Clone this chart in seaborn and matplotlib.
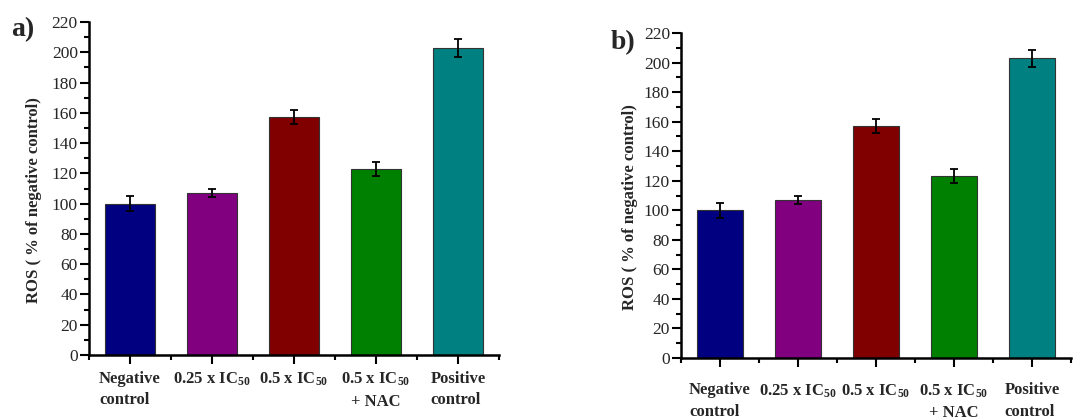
import numpy as np
import pandas as pd
import matplotlib
matplotlib.use("Agg")
import matplotlib.pyplot as plt
import matplotlib.transforms as mtransforms
from matplotlib.ticker import MultipleLocator
import seaborn as sns

categories = ["Negative\ncontrol", "0.25 x IC$_{\\mathbf{50}}$", "0.5 x IC$_{\\mathbf{50}}$",
              "0.5 x IC$_{\\mathbf{50}}$\n+ NAC", "Positive\ncontrol"]
ros_values = [100.0, 107.0, 157.0, 123.0, 203.0]
ros_errors = [5.0, 2.5, 4.6, 4.7, 5.8]
bar_colors = ["#000080", "#800080", "#800000", "#008000", "#008080"]
panel_labels = ["a)", "b)"]
y_label = "ROS ( % of negative control)"

sns.set_style("ticks")
plt.rcParams["font.family"] = ["Liberation Serif", "DejaVu Serif"]
plt.rcParams["mathtext.fontset"] = "custom"
plt.rcParams["mathtext.rm"] = "Liberation Serif:bold"
plt.rcParams["mathtext.bf"] = "Liberation Serif:bold"
plt.rcParams["mathtext.it"] = "Liberation Serif:bold"

df = pd.DataFrame({"cat": categories, "val": ros_values})

fig = plt.figure(figsize=(10.77, 4.19), dpi=100)
positions = [
    [0.0826, 0.1527, 0.4633 - 0.0826, 0.9475 - 0.1527],
    [0.6323, 0.1456, 0.9944 - 0.6323, 0.9212 - 0.1456],
]
label_pos = [(0.010, 0.900), (0.567, 0.868)]
xlabel_pads = [5, 11]
xlabel_shift_px = [-10, -13, -2, 6, 7]
ylabel_x = [-0.115, -0.109]

for i, pos in enumerate(positions):
    ax = fig.add_axes(pos)
    sns.barplot(data=df, x="cat", y="val", hue="cat", palette=bar_colors,
                width=0.6, edgecolor="#333333", linewidth=0.8, legend=False,
                saturation=1, ax=ax, errorbar=None)
    ax.errorbar(x=np.arange(len(categories)), y=ros_values, yerr=ros_errors,
                fmt="none", ecolor="black", elinewidth=1.3, capsize=3, capthick=1.3)
    ax.set_xlim(-0.5, 4.5)
    ax.set_ylim(0, 220)
    ax.yaxis.set_major_locator(MultipleLocator(20))
    ax.yaxis.set_minor_locator(MultipleLocator(10))
    ax.set_xticks(np.arange(len(categories)))
    ax.set_xticks(np.arange(-0.5, 4.6, 1.0), minor=True)
    ax.set_xticklabels(categories, fontsize=12, fontweight="bold")
    for lbl, ma, dx in zip(ax.get_xticklabels(),
                           ["left", "center", "center", "center", "left"],
                           xlabel_shift_px):
        lbl.set_multialignment(ma)
        lbl.set_linespacing(1.45)
        off = mtransforms.ScaledTranslation(dx / 100.0, 0, fig.dpi_scale_trans)
        lbl.set_transform(lbl.get_transform() + off)
    ax.tick_params(axis="both", which="major", direction="out", length=6.5, width=1.5,
                   color="black")
    ax.tick_params(axis="x", which="major", pad=xlabel_pads[i])
    ax.tick_params(axis="y", which="major", pad=1.5, labelsize=12.5)
    ax.tick_params(axis="both", which="minor", direction="out", length=3.6, width=1.5,
                   color="black")
    ax.set_xlabel("")
    ax.set_ylabel(y_label, fontsize=12, fontweight="bold")
    ax.yaxis.set_label_coords(ylabel_x[i], 0.465)
    for side in ["top", "right"]:
        ax.spines[side].set_visible(False)
    for side in ["left", "bottom"]:
        ax.spines[side].set_linewidth(1.8)
        ax.spines[side].set_color("black")
    fig.text(label_pos[i][0], label_pos[i][1], panel_labels[i], fontsize=20,
             fontweight="bold", ha="left", va="bottom")

fig.savefig("out.png", dpi=100)
